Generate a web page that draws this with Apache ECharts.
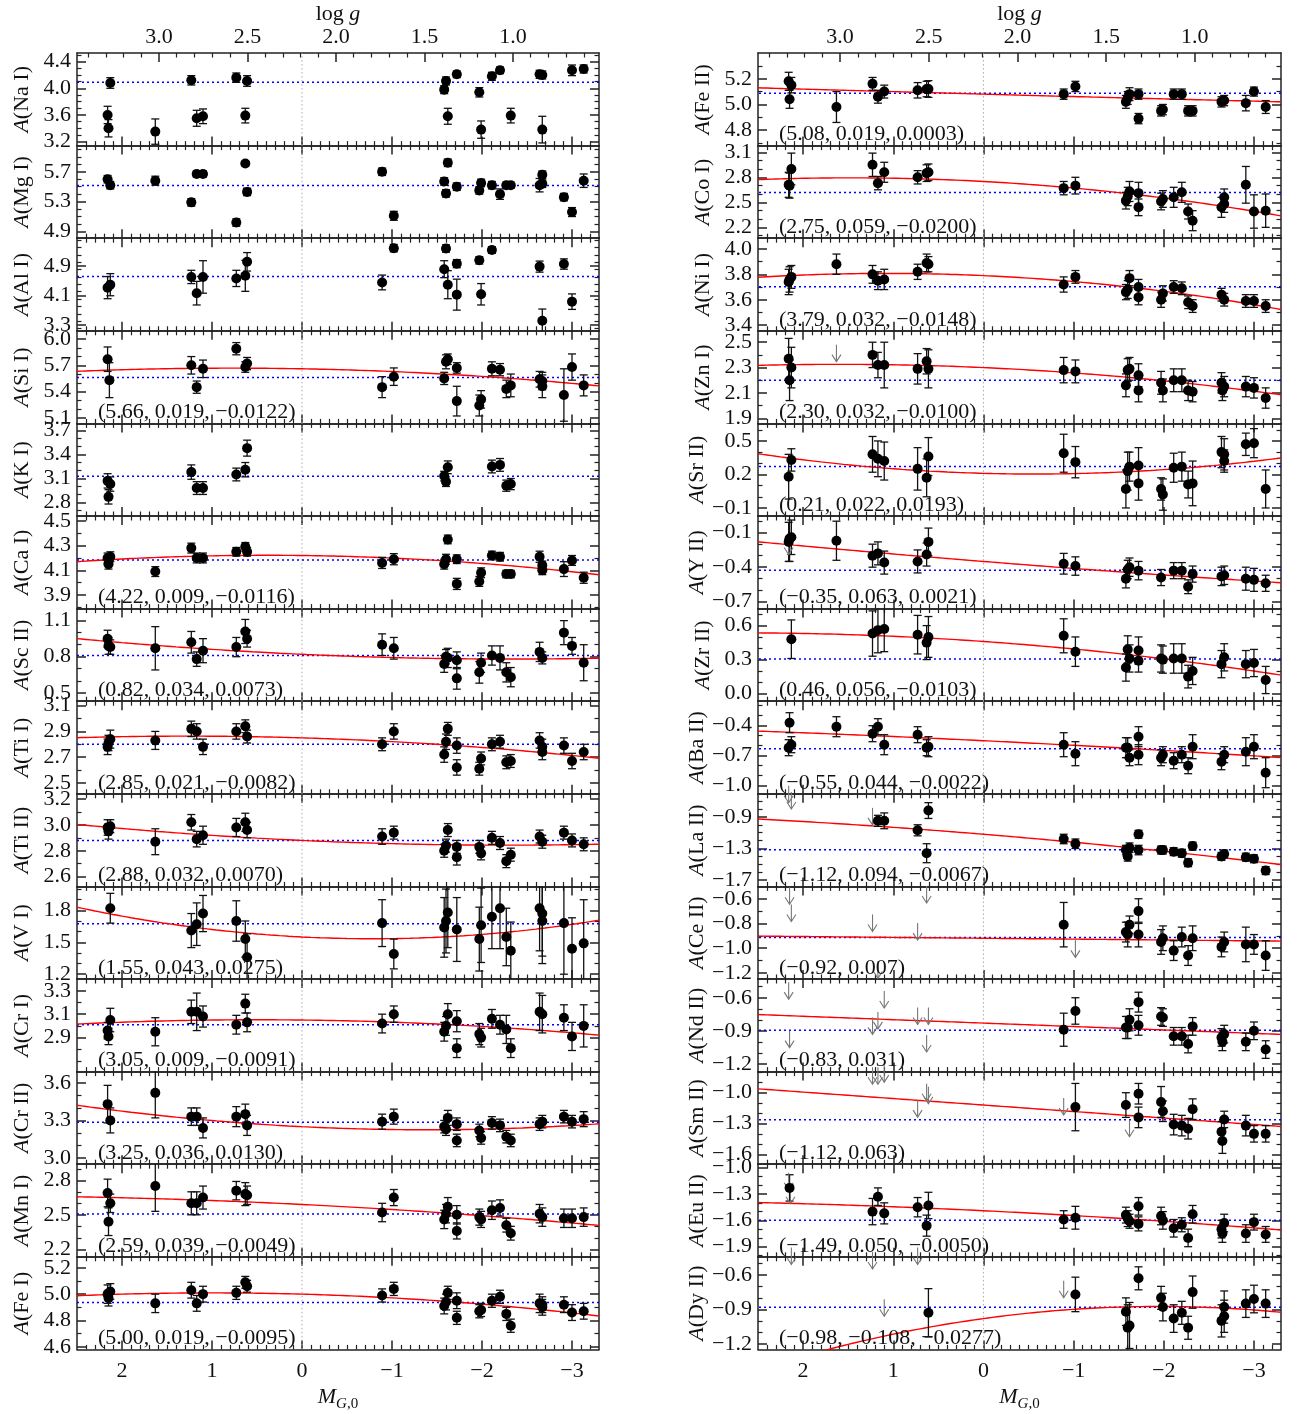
<!DOCTYPE html>
<html><head><meta charset="utf-8">
<script src="https://cdn.jsdelivr.net/npm/echarts@6/dist/echarts.min.js"></script>
<style>html,body{margin:0;padding:0;background:#fff}#c{width:1301px;height:1414px}</style>
</head><body><div id="c"></div>
<script>
// ---------------- DATA: [M_G0, A(X), error] ----------------
const NaI=[[2.16,3.60,0.13],[2.15,3.40,0.13],[2.13,4.08,0.08],[1.63,3.35,0.19],[1.23,4.12,0.07],[1.17,3.55,0.12],[1.10,3.58,0.11],[0.73,4.16,0.07],[0.63,3.59,0.11],[0.61,4.11,0.08],[-1.58,3.98,0.06],[-1.60,4.11,0.06],[-1.62,3.58,0.12],[-1.72,4.21,0.05],[-1.97,3.94,0.07],[-1.99,3.38,0.13],[-2.11,4.18,0.06],[-2.20,4.27,0.05],[-2.32,3.59,0.11],[-2.64,4.21,0.06],[-2.67,4.20,0.06],[-2.67,3.38,0.20],[-3.00,4.27,0.08],[-3.13,4.29,0.06]];
const MgI=[[2.16,5.60,0.05],[2.13,5.52,0.05],[1.63,5.58,0.06],[1.23,5.29,0.05],[1.17,5.67,0.04],[1.10,5.67,0.04],[0.73,5.02,0.05],[0.63,5.81,0.03],[0.61,5.43,0.05],[-0.89,5.70,0.05],[-1.02,5.11,0.06],[-1.58,5.57,0.05],[-1.60,5.41,0.05],[-1.62,5.82,0.05],[-1.72,5.50,0.05],[-1.97,5.45,0.05],[-1.99,5.55,0.05],[-2.11,5.52,0.05],[-2.20,5.40,0.07],[-2.27,5.52,0.04],[-2.32,5.52,0.04],[-2.64,5.52,0.09],[-2.67,5.66,0.05],[-2.67,5.54,0.05],[-2.91,5.36,0.05],[-3.00,5.16,0.06],[-3.13,5.58,0.09]];
const AlI=[[2.16,4.31,0.3],[2.13,4.39,0.3],[1.23,4.60,0.18],[1.17,4.16,0.32],[1.10,4.60,0.44],[0.73,4.56,0.22],[0.63,4.63,0.42],[0.61,5.01,0.25],[-0.89,4.45,0.2],[-1.02,5.38,0.1],[-1.58,4.81,0.23],[-1.60,5.37,0.1],[-1.62,4.39,0.38],[-1.72,4.96,0.11],[-1.72,4.12,0.42],[-1.97,5.05,0.1],[-1.99,4.13,0.29],[-2.11,5.33,0.09],[-2.64,4.88,0.15],[-2.67,3.41,0.32],[-2.91,4.95,0.14],[-3.00,3.93,0.21]];
const SiI=[[2.16,5.77,0.14],[2.14,5.53,0.2],[1.23,5.70,0.1],[1.17,5.45,0.07],[1.10,5.66,0.1],[0.73,5.89,0.07],[0.63,5.68,0.06],[0.61,5.72,0.07],[-0.89,5.45,0.12],[-1.02,5.57,0.1],[-1.58,5.55,0.07],[-1.60,5.74,0.08],[-1.62,5.77,0.06],[-1.72,5.67,0.06],[-1.72,5.29,0.17],[-1.97,5.24,0.12],[-1.99,5.31,0.1],[-2.11,5.66,0.08],[-2.20,5.65,0.07],[-2.27,5.43,0.1],[-2.32,5.47,0.13],[-2.64,5.54,0.09],[-2.67,5.52,0.1],[-2.67,5.46,0.13],[-2.91,5.36,0.3],[-3.00,5.68,0.15],[-3.13,5.47,0.12]];
const KI=[[2.16,3.07,0.09],[2.15,2.87,0.09],[2.13,3.03,0.09],[1.23,3.18,0.09],[1.17,2.98,0.08],[1.10,2.98,0.08],[0.73,3.15,0.08],[0.63,3.21,0.09],[0.61,3.48,0.1],[-1.58,3.13,0.06],[-1.60,3.06,0.06],[-1.62,3.24,0.08],[-2.11,3.25,0.08],[-2.20,3.27,0.08],[-2.27,3.01,0.07],[-2.32,3.03,0.07]];
const CaI=[[2.16,4.20,0.04],[2.15,4.15,0.04],[2.13,4.21,0.04],[1.63,4.09,0.04],[1.23,4.28,0.04],[1.17,4.20,0.04],[1.10,4.20,0.04],[0.73,4.25,0.035],[0.63,4.29,0.035],[0.61,4.25,0.035],[-0.89,4.16,0.045],[-1.02,4.19,0.045],[-1.58,4.15,0.04],[-1.60,4.19,0.04],[-1.62,4.35,0.035],[-1.72,4.19,0.035],[-1.72,3.99,0.045],[-1.97,4.01,0.04],[-1.99,4.08,0.04],[-2.11,4.22,0.035],[-2.20,4.21,0.035],[-2.27,4.07,0.03],[-2.32,4.07,0.03],[-2.64,4.21,0.045],[-2.67,4.14,0.035],[-2.67,4.10,0.035],[-2.91,4.11,0.06],[-3.00,4.18,0.04],[-3.13,4.04,0.045]];
const ScII=[[2.16,0.95,0.07],[2.15,0.89,0.07],[2.13,0.88,0.06],[1.63,0.87,0.18],[1.23,0.92,0.09],[1.17,0.78,0.06],[1.10,0.85,0.1],[0.73,0.88,0.08],[0.63,1.01,0.1],[0.61,0.95,0.07],[-0.89,0.90,0.09],[-1.02,0.87,0.09],[-1.58,0.74,0.07],[-1.60,0.80,0.06],[-1.62,0.79,0.08],[-1.72,0.77,0.07],[-1.72,0.62,0.09],[-1.97,0.67,0.09],[-1.99,0.75,0.08],[-2.11,0.81,0.08],[-2.20,0.79,0.1],[-2.27,0.67,0.08],[-2.32,0.63,0.08],[-2.64,0.84,0.08],[-2.67,0.79,0.05],[-2.91,1.00,0.1],[-3.00,0.89,0.07],[-3.13,0.75,0.15]];
const TiI=[[2.16,2.78,0.06],[2.15,2.81,0.06],[2.13,2.84,0.07],[1.63,2.83,0.07],[1.23,2.92,0.06],[1.17,2.90,0.06],[1.10,2.78,0.06],[0.73,2.90,0.06],[0.63,2.94,0.05],[0.61,2.86,0.05],[-0.89,2.80,0.05],[-1.02,2.90,0.06],[-1.58,2.72,0.06],[-1.60,2.82,0.06],[-1.62,2.92,0.05],[-1.72,2.79,0.06],[-1.72,2.62,0.06],[-1.97,2.61,0.05],[-1.99,2.69,0.05],[-2.11,2.80,0.05],[-2.20,2.82,0.05],[-2.27,2.66,0.05],[-2.32,2.67,0.05],[-2.64,2.83,0.06],[-2.67,2.78,0.06],[-2.67,2.74,0.06],[-2.91,2.79,0.06],[-3.00,2.67,0.06],[-3.13,2.74,0.06]];
const TiII=[[2.16,2.98,0.06],[2.15,2.95,0.06],[2.13,2.99,0.05],[1.63,2.87,0.1],[1.23,3.02,0.06],[1.17,2.89,0.06],[1.10,2.92,0.07],[0.73,2.98,0.07],[0.63,3.02,0.07],[0.61,2.96,0.06],[-0.89,2.91,0.06],[-1.02,2.94,0.05],[-1.58,2.80,0.05],[-1.60,2.84,0.05],[-1.62,2.96,0.05],[-1.72,2.83,0.05],[-1.72,2.75,0.06],[-1.97,2.83,0.05],[-1.99,2.78,0.05],[-2.11,2.90,0.05],[-2.20,2.86,0.05],[-2.27,2.72,0.05],[-2.32,2.77,0.05],[-2.64,2.91,0.05],[-2.67,2.87,0.05],[-2.91,2.94,0.05],[-3.00,2.88,0.05],[-3.13,2.85,0.05]];
const VI=[[2.13,1.82,0.14],[1.23,1.61,0.16],[1.17,1.67,0.2],[1.10,1.77,0.17],[0.73,1.70,0.19],[0.63,1.53,0.17],[0.61,1.36,0.22],[-0.89,1.68,0.22],[-1.02,1.39,0.14],[-1.58,1.64,0.28],[-1.60,1.70,0.3],[-1.62,1.78,0.33],[-1.72,1.62,0.3],[-1.97,1.53,0.3],[-1.99,1.66,0.35],[-2.11,1.74,0.3],[-2.20,1.82,0.38],[-2.27,1.55,0.27],[-2.32,1.42,0.27],[-2.64,1.82,0.4],[-2.67,1.70,0.4],[-2.67,1.77,0.4],[-2.91,1.68,0.48],[-3.00,1.44,0.29],[-3.13,1.49,0.41]];
const CrI=[[2.16,2.96,0.07],[2.15,2.91,0.07],[2.13,3.05,0.1],[1.63,2.95,0.12],[1.23,3.12,0.1],[1.17,3.12,0.16],[1.10,3.08,0.09],[0.73,3.01,0.08],[0.63,3.19,0.08],[0.61,3.03,0.08],[-0.89,3.02,0.08],[-1.02,3.10,0.07],[-1.58,2.95,0.08],[-1.60,3.00,0.08],[-1.62,3.10,0.09],[-1.72,3.04,0.09],[-1.72,2.81,0.08],[-1.97,2.93,0.09],[-1.99,2.90,0.08],[-2.11,3.06,0.08],[-2.20,3.01,0.08],[-2.27,2.97,0.12],[-2.32,2.81,0.08],[-2.64,3.12,0.16],[-2.67,3.10,0.16],[-2.91,3.07,0.11],[-3.00,2.91,0.12],[-3.13,3.00,0.18]];
const CrII=[[2.16,3.43,0.15],[2.13,3.30,0.1],[1.63,3.52,0.2],[1.23,3.33,0.07],[1.17,3.33,0.07],[1.10,3.24,0.08],[0.73,3.33,0.08],[0.63,3.35,0.08],[0.61,3.26,0.08],[-0.89,3.29,0.06],[-1.02,3.33,0.06],[-1.58,3.25,0.05],[-1.60,3.23,0.05],[-1.62,3.32,0.06],[-1.72,3.27,0.05],[-1.72,3.14,0.05],[-1.97,3.22,0.05],[-1.99,3.16,0.05],[-2.11,3.28,0.05],[-2.20,3.26,0.05],[-2.27,3.17,0.05],[-2.32,3.14,0.05],[-2.64,3.27,0.05],[-2.67,3.29,0.05],[-2.91,3.33,0.05],[-3.00,3.29,0.05],[-3.13,3.31,0.06]];
const MnI=[[2.16,2.69,0.12],[2.15,2.44,0.12],[2.13,2.60,0.08],[1.63,2.75,0.22],[1.23,2.60,0.1],[1.17,2.60,0.1],[1.10,2.65,0.1],[0.73,2.71,0.08],[0.63,2.68,0.1],[0.61,2.67,0.08],[-0.89,2.52,0.08],[-1.02,2.65,0.07],[-1.58,2.46,0.08],[-1.60,2.51,0.08],[-1.62,2.57,0.08],[-1.72,2.50,0.08],[-1.72,2.36,0.07],[-1.97,2.48,0.07],[-1.99,2.46,0.07],[-2.11,2.54,0.08],[-2.20,2.56,0.07],[-2.27,2.41,0.06],[-2.32,2.34,0.06],[-2.64,2.51,0.08],[-2.67,2.48,0.08],[-2.91,2.47,0.08],[-3.00,2.47,0.08],[-3.13,2.48,0.08]];
const FeI=[[2.16,5.00,0.07],[2.15,4.97,0.06],[2.13,5.02,0.06],[1.63,4.93,0.07],[1.23,5.03,0.06],[1.17,4.93,0.06],[1.10,5.00,0.06],[0.73,5.01,0.05],[0.63,5.09,0.045],[0.61,5.06,0.045],[-0.89,4.99,0.05],[-1.02,5.04,0.05],[-1.58,4.91,0.06],[-1.60,4.94,0.06],[-1.62,5.01,0.05],[-1.72,4.95,0.06],[-1.72,4.82,0.05],[-1.97,4.87,0.05],[-1.99,4.88,0.05],[-2.11,4.95,0.05],[-2.20,4.98,0.05],[-2.27,4.85,0.05],[-2.32,4.76,0.05],[-2.64,4.93,0.07],[-2.67,4.90,0.06],[-2.67,4.92,0.06],[-2.91,4.92,0.06],[-3.00,4.86,0.06],[-3.13,4.87,0.06]];
const FeII=[[2.16,5.18,0.07],[2.15,5.04,0.07],[2.13,5.15,0.06],[1.63,4.98,0.12],[1.23,5.16,0.05],[1.17,5.06,0.05],[1.10,5.10,0.05],[0.73,5.11,0.06],[0.63,5.12,0.06],[0.61,5.12,0.065],[-0.89,5.08,0.04],[-1.02,5.14,0.04],[-1.58,5.02,0.05],[-1.60,5.05,0.05],[-1.62,5.08,0.05],[-1.72,5.08,0.04],[-1.72,4.89,0.04],[-1.97,4.95,0.04],[-1.99,4.96,0.04],[-2.11,5.08,0.04],[-2.20,5.08,0.04],[-2.27,4.95,0.04],[-2.32,4.95,0.04],[-2.64,5.02,0.04],[-2.67,5.03,0.04],[-2.91,5.01,0.06],[-3.00,5.10,0.035],[-3.13,4.98,0.05]];
const CoI=[[2.16,2.71,0.15],[2.15,2.70,0.15],[2.13,2.90,0.19],[1.23,2.95,0.14],[1.17,2.73,0.08],[1.10,2.86,0.12],[0.73,2.80,0.08],[0.63,2.85,0.1],[0.61,2.86,0.1],[-0.89,2.67,0.08],[-1.02,2.70,0.1],[-1.58,2.52,0.1],[-1.60,2.57,0.11],[-1.62,2.63,0.12],[-1.72,2.61,0.13],[-1.72,2.44,0.1],[-1.97,2.51,0.1],[-1.99,2.54,0.1],[-2.11,2.56,0.12],[-2.20,2.62,0.12],[-2.27,2.39,0.09],[-2.32,2.28,0.12],[-2.64,2.44,0.12],[-2.67,2.56,0.1],[-2.67,2.48,0.1],[-2.91,2.71,0.22],[-3.00,2.39,0.2],[-3.13,2.40,0.2]];
const NiI=[[2.16,3.74,0.1],[2.15,3.76,0.1],[2.13,3.78,0.09],[1.63,3.88,0.08],[1.23,3.80,0.07],[1.17,3.75,0.07],[1.10,3.76,0.08],[0.73,3.82,0.06],[0.63,3.89,0.07],[0.61,3.88,0.06],[-0.89,3.72,0.06],[-1.02,3.78,0.05],[-1.58,3.66,0.06],[-1.60,3.68,0.07],[-1.62,3.77,0.06],[-1.72,3.70,0.06],[-1.72,3.62,0.06],[-1.97,3.60,0.06],[-1.99,3.65,0.06],[-2.11,3.70,0.05],[-2.20,3.69,0.05],[-2.27,3.58,0.05],[-2.32,3.55,0.05],[-2.64,3.64,0.05],[-2.67,3.60,0.05],[-2.91,3.59,0.05],[-3.00,3.59,0.05],[-3.13,3.55,0.05]];
const ZnI=[[2.16,2.37,0.16],[2.15,2.20,0.16],[2.13,2.30,0.16],[1.23,2.40,0.1],[1.17,2.32,0.1],[1.10,2.32,0.18],[0.73,2.29,0.12],[0.63,2.35,0.1],[0.61,2.29,0.15],[-0.89,2.28,0.1],[-1.02,2.27,0.09],[-1.58,2.16,0.09],[-1.60,2.28,0.09],[-1.62,2.29,0.09],[-1.72,2.24,0.09],[-1.72,2.12,0.09],[-1.97,2.18,0.09],[-1.99,2.12,0.09],[-2.11,2.20,0.09],[-2.20,2.20,0.09],[-2.27,2.12,0.08],[-2.32,2.11,0.08],[-2.64,2.18,0.08],[-2.67,2.15,0.08],[-2.65,2.12,0.08],[-2.91,2.15,0.08],[-3.00,2.14,0.08],[-3.13,2.06,0.08]];
const SrII=[[2.16,0.18,0.2],[2.13,0.33,0.1],[1.23,0.38,0.16],[1.17,0.34,0.16],[1.10,0.32,0.17],[0.73,0.25,0.19],[0.63,0.17,0.17],[0.61,0.36,0.17],[-0.89,0.39,0.17],[-1.02,0.31,0.14],[-1.58,0.07,0.17],[-1.60,0.23,0.17],[-1.62,0.27,0.13],[-1.72,0.28,0.16],[-1.72,0.12,0.15],[-1.97,0.07,0.1],[-1.99,0.02,0.14],[-2.11,0.26,0.13],[-2.20,0.27,0.13],[-2.27,0.11,0.12],[-2.32,0.12,0.2],[-2.64,0.40,0.14],[-2.67,0.38,0.14],[-2.67,0.32,0.1],[-2.91,0.47,0.1],[-3.00,0.48,0.13],[-3.13,0.07,0.17]];
const YII=[[2.16,-0.18,0.17],[2.15,-0.15,0.2],[2.13,-0.14,0.15],[1.63,-0.17,0.17],[1.23,-0.30,0.1],[1.17,-0.28,0.1],[1.10,-0.36,0.1],[0.73,-0.35,0.1],[0.63,-0.29,0.1],[0.61,-0.18,0.12],[-0.89,-0.37,0.09],[-1.02,-0.39,0.08],[-1.58,-0.50,0.08],[-1.60,-0.42,0.08],[-1.62,-0.40,0.08],[-1.72,-0.43,0.08],[-1.97,-0.49,0.07],[-2.11,-0.43,0.07],[-2.20,-0.43,0.07],[-2.27,-0.57,0.06],[-2.32,-0.46,0.07],[-2.64,-0.48,0.08],[-2.67,-0.47,0.08],[-2.91,-0.50,0.1],[-3.00,-0.51,0.1],[-3.13,-0.54,0.07]];
const ZrII=[[2.13,0.48,0.17],[1.23,0.53,0.2],[1.17,0.56,0.2],[1.10,0.57,0.2],[0.73,0.52,0.17],[0.63,0.45,0.15],[0.61,0.50,0.18],[-0.89,0.51,0.15],[-1.02,0.37,0.13],[-1.58,0.23,0.12],[-1.60,0.39,0.12],[-1.62,0.31,0.12],[-1.72,0.38,0.12],[-1.72,0.29,0.1],[-1.97,0.31,0.12],[-1.99,0.30,0.12],[-2.11,0.31,0.13],[-2.20,0.31,0.13],[-2.27,0.15,0.1],[-2.32,0.20,0.12],[-2.64,0.26,0.12],[-2.67,0.32,0.12],[-2.91,0.26,0.12],[-3.00,0.27,0.12],[-3.13,0.12,0.12]];
const BaII=[[2.16,-0.62,0.08],[2.15,-0.37,0.1],[2.13,-0.59,0.08],[1.63,-0.41,0.1],[1.23,-0.48,0.08],[1.17,-0.41,0.08],[1.10,-0.59,0.1],[0.73,-0.49,0.08],[0.63,-0.62,0.08],[0.61,-0.61,0.1],[-0.89,-0.59,0.12],[-1.02,-0.68,0.12],[-1.58,-0.62,0.1],[-1.60,-0.62,0.1],[-1.62,-0.72,0.08],[-1.72,-0.51,0.1],[-1.72,-0.69,0.1],[-1.97,-0.72,0.08],[-1.99,-0.69,0.08],[-2.11,-0.75,0.08],[-2.20,-0.69,0.08],[-2.27,-0.80,0.08],[-2.32,-0.61,0.12],[-2.64,-0.76,0.08],[-2.67,-0.69,0.08],[-2.91,-0.66,0.14],[-3.00,-0.61,0.12],[-3.13,-0.87,0.15]];
const LaII=[[1.17,-0.95,0.07],[1.10,-0.95,0.1],[0.73,-1.07,0.07],[0.63,-1.36,0.12],[0.61,-0.82,0.1],[-0.89,-1.18,0.06],[-1.02,-1.24,0.06],[-1.58,-1.32,0.06],[-1.60,-1.40,0.06],[-1.62,-1.29,0.06],[-1.72,-1.12,0.05],[-1.72,-1.32,0.06],[-1.97,-1.32,0.05],[-1.99,-1.32,0.05],[-2.11,-1.34,0.05],[-2.20,-1.36,0.05],[-2.27,-1.48,0.05],[-2.32,-1.27,0.05],[-2.64,-1.40,0.05],[-2.67,-1.37,0.05],[-2.91,-1.41,0.05],[-3.00,-1.43,0.05],[-3.13,-1.58,0.05]];
const CeII=[[-0.89,-0.81,0.18],[-1.58,-0.87,0.08],[-1.60,-0.89,0.1],[-1.62,-0.81,0.07],[-1.72,-0.70,0.1],[-1.72,-0.89,0.1],[-1.97,-0.95,0.1],[-1.99,-0.92,0.1],[-2.11,-1.02,0.08],[-2.20,-0.91,0.08],[-2.27,-1.06,0.08],[-2.32,-0.92,0.1],[-2.64,-0.99,0.08],[-2.67,-0.95,0.08],[-2.91,-0.97,0.14],[-3.00,-0.97,0.08],[-3.13,-1.06,0.12]];
const NdII=[[-0.89,-0.89,0.15],[-1.02,-0.72,0.12],[-1.58,-0.87,0.1],[-1.60,-0.87,0.1],[-1.62,-0.80,0.1],[-1.72,-0.64,0.09],[-1.72,-0.85,0.09],[-1.97,-0.77,0.08],[-1.99,-0.78,0.08],[-2.11,-0.95,0.08],[-2.20,-0.95,0.08],[-2.27,-1.02,0.08],[-2.32,-0.86,0.08],[-2.64,-0.96,0.08],[-2.65,-1.00,0.08],[-2.67,-0.93,0.08],[-2.91,-1.00,0.08],[-3.00,-0.90,0.08],[-3.13,-1.07,0.08]];
const SmII=[[-1.02,-1.14,0.23],[-1.58,-1.12,0.12],[-1.72,-1.01,0.1],[-1.72,-1.24,0.1],[-1.97,-1.09,0.15],[-1.99,-1.18,0.1],[-2.11,-1.31,0.1],[-2.20,-1.32,0.1],[-2.27,-1.35,0.1],[-2.32,-1.16,0.1],[-2.64,-1.38,0.1],[-2.65,-1.47,0.12],[-2.67,-1.26,0.08],[-2.91,-1.32,0.1],[-3.00,-1.40,0.08],[-3.13,-1.40,0.08]];
const EuII=[[2.15,-1.23,0.15],[1.23,-1.50,0.15],[1.17,-1.33,0.1],[1.10,-1.52,0.12],[0.73,-1.45,0.11],[0.63,-1.66,0.12],[0.61,-1.43,0.15],[-0.89,-1.59,0.1],[-1.02,-1.57,0.13],[-1.58,-1.54,0.09],[-1.60,-1.58,0.09],[-1.62,-1.61,0.08],[-1.72,-1.44,0.1],[-1.72,-1.64,0.08],[-1.97,-1.55,0.1],[-1.99,-1.60,0.1],[-2.11,-1.69,0.1],[-2.20,-1.65,0.08],[-2.27,-1.80,0.1],[-2.32,-1.53,0.1],[-2.64,-1.70,0.1],[-2.65,-1.75,0.1],[-2.67,-1.63,0.1],[-2.91,-1.75,0.1],[-3.00,-1.62,0.09],[-3.13,-1.76,0.09]];
const DyII=[[0.61,-0.93,0.21],[-1.02,-0.77,0.15],[-1.58,-0.92,0.12],[-1.60,-1.06,0.2],[-1.62,-1.04,0.2],[-1.72,-0.63,0.1],[-1.97,-0.80,0.1],[-1.99,-0.88,0.12],[-2.11,-0.98,0.12],[-2.20,-0.93,0.1],[-2.27,-1.06,0.1],[-2.32,-0.75,0.14],[-2.64,-1.00,0.14],[-2.67,-0.96,0.14],[-2.67,-0.88,0.14],[-2.91,-0.85,0.12],[-3.00,-0.81,0.12],[-3.13,-0.85,0.12]];

// upper limits: [M_G0, A]
const ZnI_lim=[[1.63,2.41]];
const YII_lim=[[2.16,-0.22]];
const LaII_lim=[[2.16,-0.62],[2.13,-0.70],[1.23,-0.90]];
const CeII_lim=[[2.15,-0.58],[2.13,-0.72],[1.23,-0.80],[1.17,-1.18],[0.73,-0.87],[0.63,-0.57],[-1.02,-1.01]];
const NdII_lim=[[2.16,-0.54],[2.15,-0.98],[1.23,-0.86],[1.17,-0.81],[1.10,-0.62],[0.73,-0.77],[0.63,-1.02],[0.61,-0.77]];
const SmII_lim=[[1.23,-0.84],[1.17,-0.84],[1.10,-0.82],[0.73,-1.16],[0.63,-1.00],[0.61,-1.03],[-0.89,-1.14],[-1.62,-1.35]];
const EuII_lim=[[2.16,-1.16],[2.14,-1.32]];
const DyII_lim=[[2.13,-0.44],[1.23,-0.48],[0.73,-0.44],[1.10,-0.89],[-0.89,-0.73]];

// fit coefficients (a, b, c): A = a + b*M + c*M^2
const SiI_fit=[5.66,0.019,-0.0122], CaI_fit=[4.22,0.009,-0.0116], ScII_fit=[0.82,0.034,0.0073],
      TiI_fit=[2.85,0.021,-0.0082], TiII_fit=[2.88,0.032,0.0070], VI_fit=[1.55,0.043,0.0275],
      CrI_fit=[3.05,0.009,-0.0091], CrII_fit=[3.25,0.036,0.0130], MnI_fit=[2.59,0.039,-0.0049],
      FeI_fit=[5.00,0.019,-0.0095], FeII_fit=[5.08,0.019,0.0003], CoI_fit=[2.75,0.059,-0.0200],
      NiI_fit=[3.79,0.032,-0.0148], ZnI_fit=[2.30,0.032,-0.0100], SrII_fit=[0.21,0.022,0.0193],
      YII_fit=[-0.35,0.063,0.0021], ZrII_fit=[0.46,0.056,-0.0103], BaII_fit=[-0.55,0.044,-0.0022],
      LaII_fit=[-1.12,0.094,-0.0067], CeII_fit=[-0.92,0.007], NdII_fit=[-0.83,0.031],
      SmII_fit=[-1.12,0.063], EuII_fit=[-1.49,0.050,-0.0050], DyII_fit=[-0.98,-0.108,-0.0277];

// reference (blue dotted) levels
const BLUE_LEFT=[4.09,5.515,4.61,5.56,3.127,4.183,0.81,2.80,2.88,1.673,3.01,3.286,2.506,4.937];
const BLUE_RIGHT=[5.088,2.618,3.702,2.20,0.272,-0.426,0.306,-0.63,-1.315,-0.914,-0.895,-1.264,-1.598,-0.881];

// axis ranges and tick labels
const X_RANGE=[-3.3,2.5], X_TICKS=[-3,-2,-1,0,1,2];
const LOGG_RANGE=[0.514,3.463], LOGG_TICKS=[1.0,1.5,2.0,2.5,3.0];
const YLIM_LEFT=[[3.14,4.53],[4.81,6.05],[3.14,5.65],[5.035,6.095],[2.63,3.79],[3.79,4.54],[0.43,1.20],[2.415,3.135],[2.525,3.24],[1.155,2.025],[2.61,3.40],[2.95,3.69],[2.135,2.94],[4.58,5.284]];
const YTICKS_LEFT=[[3.2,3.6,4.0,4.4],[4.9,5.3,5.7],[3.3,4.1,4.9],[5.1,5.4,5.7,6.0],[2.8,3.1,3.4,3.7],[3.9,4.1,4.3,4.5],[0.5,0.8,1.1],[2.5,2.7,2.9,3.1],[2.6,2.8,3.0,3.2],[1.2,1.5,1.8],[2.9,3.1,3.3],[3.0,3.3,3.6],[2.2,2.5,2.8],[4.6,4.8,5.0,5.2]];
const YMINOR_LEFT=[0.1,0.1,0.2,0.1,0.1,0.1,0.1,0.1,0.1,0.1,0.1,0.1,0.1,0.1];
const YLIM_RIGHT=[[4.68,5.40],[2.07,3.18],[3.355,4.085],[1.86,2.59],[-0.172,0.657],[-0.76,0.045],[-0.067,0.75],[-1.081,-0.155],[-1.78,-0.608],[-1.25,-0.50],[-1.27,-0.43],[-1.695,-0.795],[-2.015,-0.96],[-1.248,-0.443]];
const YTICKS_RIGHT=[[4.8,5.0,5.2],[2.2,2.5,2.8,3.1],[3.4,3.6,3.8,4.0],[1.9,2.1,2.3,2.5],[-0.1,0.2,0.5],[-0.7,-0.4,-0.1],[0.0,0.3,0.6],[-1.0,-0.7,-0.4],[-1.7,-1.3,-0.9],[-1.2,-1.0,-0.8,-0.6],[-1.2,-0.9,-0.6],[-1.6,-1.3,-1.0],[-1.9,-1.6,-1.3,-1.0],[-1.2,-0.9,-0.6]];
const YMINOR_RIGHT=[0.1,0.1,0.1,0.1,0.1,0.1,0.1,0.1,0.1,0.1,0.1,0.1,0.1,0.1];

const NAMES_LEFT=['Na I','Mg I','Al I','Si I','K I','Ca I','Sc II','Ti I','Ti II','V I','Cr I','Cr II','Mn I','Fe I'];
const NAMES_RIGHT=['Fe II','Co I','Ni I','Zn I','Sr II','Y II','Zr II','Ba II','La II','Ce II','Nd II','Sm II','Eu II','Dy II'];
const DATA_LEFT=[NaI,MgI,AlI,SiI,KI,CaI,ScII,TiI,TiII,VI,CrI,CrII,MnI,FeI];
const DATA_RIGHT=[FeII,CoI,NiI,ZnI,SrII,YII,ZrII,BaII,LaII,CeII,NdII,SmII,EuII,DyII];
const FIT_LEFT=[null,null,null,SiI_fit,null,CaI_fit,ScII_fit,TiI_fit,TiII_fit,VI_fit,CrI_fit,CrII_fit,MnI_fit,FeI_fit];
const FIT_RIGHT=[FeII_fit,CoI_fit,NiI_fit,ZnI_fit,SrII_fit,YII_fit,ZrII_fit,BaII_fit,LaII_fit,CeII_fit,NdII_fit,SmII_fit,EuII_fit,DyII_fit];
const LIM_LEFT=[null,null,null,null,null,null,null,null,null,null,null,null,null,null];
const LIM_RIGHT=[null,null,null,ZnI_lim,null,YII_lim,null,null,LaII_lim,CeII_lim,NdII_lim,SmII_lim,EuII_lim,DyII_lim];

// ---------------- LAYOUT / STYLE ----------------
const FONT='"Liberation Serif","Times New Roman","DejaVu Serif",serif';
const INK='#111';
const COLS=[{left:77,width:522},{left:758,width:523}];
const TOP0=53, PH=92.6;
const AXL={color:'#222',width:1.5};
const MINL={color:'#222',width:1.2};

const MINUS='\u2212';
const fmtY=v=>(v<0?MINUS:'')+Math.abs(v).toFixed(1);
const fmtX=v=>(v<0?MINUS+Math.abs(v):String(v));
const sgn=(v,d)=>(v<0?MINUS:'')+Math.abs(v).toFixed(d);
function fitLabel(f){const p=[sgn(f[0],2),sgn(f[1],3)]; if(f.length>2)p.push(sgn(f[2],4)); return '('+p.join(', ')+')';}
function minorList(min,max,step,majors){
  const out=[]; const k0=Math.ceil(min/step-1e-9), k1=Math.floor(max/step+1e-9);
  for(let k=k0;k<=k1;k++){const v=+(k*step).toFixed(6);
    if(v<=min+1e-6||v>=max-1e-6)continue;
    if(majors.some(m=>Math.abs(m-v)<1e-6))continue; out.push(v);}
  return out;
}
function fitCurve(f){const pts=[]; const n=Math.round((X_RANGE[1]-X_RANGE[0])/0.05);
  for(let i=0;i<=n;i++){const m=X_RANGE[0]+i*0.05; pts.push([m,f[0]+f[1]*m+(f.length>2?f[2]*m*m:0)]);} return pts;}

function errRender(params,api){
  const x=api.value(0),y=api.value(1),e=api.value(2);
  const cs=params.coordSys; const top=cs.y, bot=cs.y+cs.height;
  const a=api.coord([x,y+e]), b=api.coord([x,y-e]);
  const st={stroke:'#111',lineWidth:1.3};
  const ya=Math.max(top,a[1]), yb=Math.min(bot,b[1]);
  const ch=[{type:'line',shape:{x1:a[0],y1:ya,x2:a[0],y2:yb},style:st}];
  if(a[1]>=top)ch.push({type:'line',shape:{x1:a[0]-4,y1:a[1],x2:a[0]+4,y2:a[1]},style:st});
  if(b[1]<=bot)ch.push({type:'line',shape:{x1:b[0]-4,y1:b[1],x2:b[0]+4,y2:b[1]},style:st});
  return {type:'group',children:ch};
}
function arrowRender(params,api){
  const p=api.coord([api.value(0),api.value(1)]);
  const st={stroke:'#777',lineWidth:1.1,fill:null};
  return {type:'group',children:[
    {type:'line',shape:{x1:p[0],y1:p[1]-9,x2:p[0],y2:p[1]+8},style:st},
    {type:'polyline',shape:{points:[[p[0]-4.5,p[1]+1],[p[0],p[1]+8],[p[0]+4.5,p[1]+1]]},style:st}
  ]};
}

const grid=[],xAxis=[],yAxis=[],series=[],graphic=[];
const X_MINOR=minorList(X_RANGE[0],X_RANGE[1],0.1,X_TICKS);
const LOGG_MINOR=minorList(LOGG_RANGE[0],LOGG_RANGE[1],0.1,LOGG_TICKS);
const labelStyle={fontFamily:FONT,fontSize:22,color:INK};

function addPanel(col,row,name,data,ylim,yticks,ystep,blue,fit,lim){
  const g=grid.length; const top=TOP0+row*PH; const C=COLS[col];
  grid.push({left:C.left,top:top,width:C.width,height:PH});
  const xb=xAxis.length;
  xAxis.push({type:'value',gridIndex:g,position:'bottom',min:X_RANGE[0],max:X_RANGE[1],inverse:true,
    axisLine:{show:true,onZero:false,lineStyle:AXL},axisTick:{show:true,inside:true,length:9,lineStyle:AXL,customValues:X_TICKS},
    axisLabel:Object.assign({show:row===13,customValues:X_TICKS,formatter:fmtX,margin:11},labelStyle),splitLine:{show:false}});
  xAxis.push({type:'value',gridIndex:g,position:'bottom',min:X_RANGE[0],max:X_RANGE[1],inverse:true,
    axisLine:{show:false,onZero:false},axisTick:{show:true,inside:true,length:4.5,lineStyle:MINL,customValues:X_MINOR},
    axisLabel:{show:false},splitLine:{show:false}});
  if(row===0){
    xAxis.push({type:'value',gridIndex:g,position:'top',min:LOGG_RANGE[0],max:LOGG_RANGE[1],inverse:true,
      axisLine:{show:true,onZero:false,lineStyle:AXL},axisTick:{show:true,inside:true,length:9,lineStyle:AXL,customValues:LOGG_TICKS},
      axisLabel:Object.assign({show:true,customValues:LOGG_TICKS,formatter:v=>v.toFixed(1),margin:5},labelStyle),splitLine:{show:false}});
    xAxis.push({type:'value',gridIndex:g,position:'top',min:LOGG_RANGE[0],max:LOGG_RANGE[1],inverse:true,
      axisLine:{show:false,onZero:false},axisTick:{show:true,inside:true,length:4.5,lineStyle:MINL,customValues:LOGG_MINOR},
      axisLabel:{show:false},splitLine:{show:false}});
  } else {
    xAxis.push({type:'value',gridIndex:g,position:'top',min:X_RANGE[0],max:X_RANGE[1],inverse:true,
      axisLine:{show:true,onZero:false,lineStyle:AXL},axisTick:{show:true,inside:true,length:9,lineStyle:AXL,customValues:X_TICKS},
      axisLabel:{show:false},splitLine:{show:false}});
    xAxis.push({type:'value',gridIndex:g,position:'top',min:X_RANGE[0],max:X_RANGE[1],inverse:true,
      axisLine:{show:false,onZero:false},axisTick:{show:true,inside:true,length:4.5,lineStyle:MINL,customValues:X_MINOR},
      axisLabel:{show:false},splitLine:{show:false}});
  }
  const ymin=minorList(ylim[0],ylim[1],ystep,yticks);
  const yl=yAxis.length;
  yAxis.push({type:'value',gridIndex:g,position:'left',min:ylim[0],max:ylim[1],
    axisLine:{show:true,onZero:false,lineStyle:AXL},axisTick:{show:true,inside:true,length:9,lineStyle:AXL,customValues:yticks},
    axisLabel:Object.assign({show:true,customValues:yticks,formatter:fmtY,margin:6},labelStyle),splitLine:{show:false},
    name:'{i|A}('+name+')',nameLocation:'middle',nameGap:44,
    nameTextStyle:{fontFamily:FONT,fontSize:22,color:INK,rich:{i:{fontFamily:FONT,fontSize:22,fontStyle:'italic',color:INK}}}});
  yAxis.push({type:'value',gridIndex:g,position:'left',min:ylim[0],max:ylim[1],
    axisLine:{show:false,onZero:false},axisTick:{show:true,inside:true,length:4.5,lineStyle:MINL,customValues:ymin},
    axisLabel:{show:false},splitLine:{show:false}});
  yAxis.push({type:'value',gridIndex:g,position:'right',min:ylim[0],max:ylim[1],
    axisLine:{show:true,onZero:false,lineStyle:AXL},axisTick:{show:true,inside:true,length:9,lineStyle:AXL,customValues:yticks},
    axisLabel:{show:false},splitLine:{show:false}});
  yAxis.push({type:'value',gridIndex:g,position:'right',min:ylim[0],max:ylim[1],
    axisLine:{show:false,onZero:false},axisTick:{show:true,inside:true,length:4.5,lineStyle:MINL,customValues:ymin},
    axisLabel:{show:false},splitLine:{show:false}});

  const ax={xAxisIndex:xb,yAxisIndex:yl,animation:false,silent:true};
  series.push(Object.assign({type:'line',data:[[0,ylim[0]],[0,ylim[1]]],symbol:'none',lineStyle:{color:'#aaa',width:1,type:[1.5,2.5]},z:1},ax));
  series.push(Object.assign({type:'line',data:[[X_RANGE[0],blue],[X_RANGE[1],blue]],symbol:'none',lineStyle:{color:'#0000ff',width:1.5,type:[2,3]},z:2},ax));
  if(fit){
    series.push(Object.assign({type:'line',data:fitCurve(fit),symbol:'none',clip:true,lineStyle:{color:'#ff0000',width:1.4},z:3},ax));
    graphic.push({type:'text',x:C.left+21,y:top+PH-11,z:100,style:{text:fitLabel(fit),fontFamily:FONT,fontSize:22,fill:INK,align:'left',verticalAlign:'middle'}});
  }
  series.push(Object.assign({type:'custom',renderItem:errRender,data:data,encode:{x:0,y:1},z:4},ax));
  series.push(Object.assign({type:'scatter',data:data.map(d=>[d[0],d[1]]),symbol:'circle',symbolSize:10,itemStyle:{color:'#000',opacity:1},z:5},ax));
  if(lim){
    series.push(Object.assign({type:'custom',renderItem:arrowRender,data:lim,encode:{x:0,y:1},z:4,clip:false},ax));
  }
}

for(let r=0;r<14;r++){
  addPanel(0,r,NAMES_LEFT[r],DATA_LEFT[r],YLIM_LEFT[r],YTICKS_LEFT[r],YMINOR_LEFT[r],BLUE_LEFT[r],FIT_LEFT[r],LIM_LEFT[r]);
}
for(let r=0;r<14;r++){
  addPanel(1,r,NAMES_RIGHT[r],DATA_RIGHT[r],YLIM_RIGHT[r],YTICKS_RIGHT[r],YMINOR_RIGHT[r],BLUE_RIGHT[r],FIT_RIGHT[r],LIM_RIGHT[r]);
}
COLS.forEach(C=>{
  const cx=C.left+C.width/2;
  graphic.push({type:'text',x:cx,y:14,style:{text:'log {i|g}',fontFamily:FONT,fontSize:22,fill:INK,align:'center',verticalAlign:'middle',
    rich:{i:{fontFamily:FONT,fontSize:22,fontStyle:'italic',fill:INK}}}});
  graphic.push({type:'text',x:cx,y:1397,style:{text:'{m|M}{s|G}{t|,0}',fontFamily:FONT,fontSize:22,fill:INK,align:'center',verticalAlign:'middle',
    rich:{m:{fontFamily:FONT,fontSize:22,fontStyle:'italic',fill:INK,lineHeight:30,verticalAlign:'middle'},
          s:{fontFamily:FONT,fontSize:15,fontStyle:'italic',fill:INK,lineHeight:16,verticalAlign:'bottom'},
          t:{fontFamily:FONT,fontSize:15,fill:INK,lineHeight:16,verticalAlign:'bottom'}}}});
});

const chart=echarts.init(document.getElementById('c'),null,{renderer:'canvas'});
chart.setOption({animation:false,backgroundColor:'#fff',grid,xAxis,yAxis,series,graphic});
</script></body></html>
